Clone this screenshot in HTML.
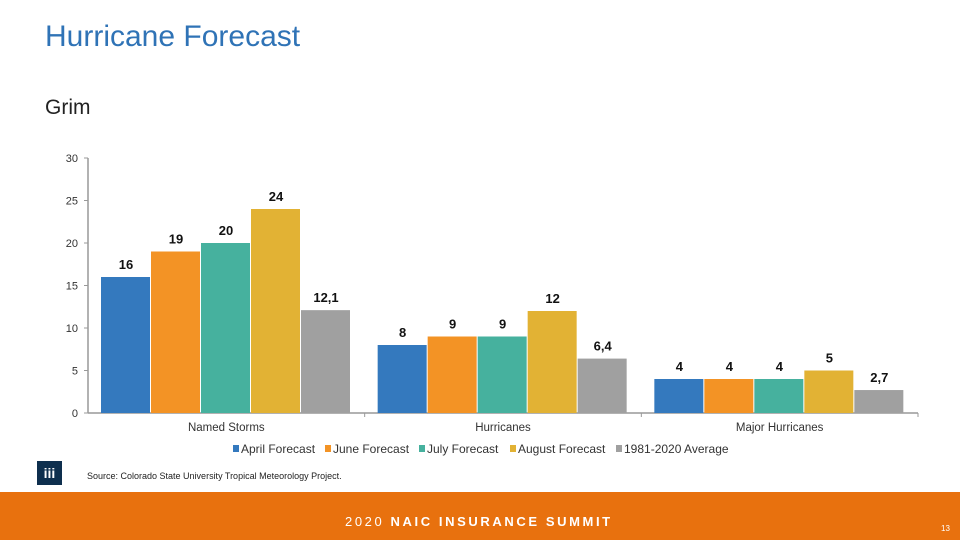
<!DOCTYPE html>
<html><head><meta charset="utf-8"><style>
body{margin:0;width:960px;height:540px;overflow:hidden;background:#fff;font-family:"Liberation Sans",sans-serif;position:relative}
.abs{position:absolute}
</style></head><body>
<div class="abs" style="left:45px;top:20px;font-size:30px;color:#2F73B6">Hurricane Forecast</div>
<div class="abs" style="left:45px;top:96px;font-size:21px;color:#222">Grim</div>
<svg class="abs" style="left:0;top:0" width="960" height="540" id="chart"></svg>
<div class="abs" style="left:37px;top:461px;width:25px;height:24px;background:#0E2F4E;color:#fff;font-size:14px;font-weight:bold;text-align:center;line-height:24px">iii</div>
<div class="abs" style="left:87px;top:471px;font-size:9px;color:#222">Source: Colorado State University Tropical Meteorology Project.</div>
<div class="abs" style="left:0;top:492px;width:960px;height:48px;background:#E8710E"></div>
<div class="abs" style="left:345px;top:514px;font-size:13px;color:#fff;letter-spacing:2.6px">2020 <b>NAIC INSURANCE SUMMIT</b></div>
<div class="abs" style="left:941px;top:524px;font-size:8px;color:#fff">13</div>
<script>
const categories=["Named Storms","Hurricanes","Major Hurricanes"];
const seriesNames=["April Forecast","June Forecast","July Forecast","August Forecast","1981-2020 Average"];
const april=[16,8,4];
const june=[19,9,4];
const july=[20,9,4];
const august=[24,12,5];
const average=[12.1,6.4,2.7];
const yTicks=[0,5,10,15,20,25,30];
const colors=["#3479BE","#F39325","#46B19E","#E2B234","#A0A0A0"];
const series=[april,june,july,august,average];
const svg=document.getElementById('chart');
const NS="http://www.w3.org/2000/svg";
const x0=88,x1=918,y0=413,y1=158,yMax=30;
const y=v=>y0-(v/yMax)*(y0-y1);
const gw=(x1-x0)/categories.length,bw=50,pad=13;
function el(t,a){const e=document.createElementNS(NS,t);for(const k in a)e.setAttribute(k,a[k]);svg.appendChild(e);return e;}
const ax=el('line',{x1:x0,y1:y1,x2:x0,y2:y0,stroke:'#999','stroke-width':1.5});


const xa=el('line',{x1:x0,y1:y0,x2:x1,y2:y0,stroke:'#999','stroke-width':1.5});


yTicks.forEach(t=>{
 el('line',{x1:x0-4,y1:y(t),x2:x0,y2:y(t),stroke:'#999'});
 const tx=el('text',{x:x0-10,y:y(t)+4,'text-anchor':'end','font-size':11,fill:'#333'});tx.textContent=t;
 
 
});
categories.forEach((c,i)=>{
 const gx=x0+i*gw;
 el('line',{x1:gx+gw,y1:y0,x2:gx+gw,y2:y0+4,stroke:'#999'});
 const ct=el('text',{x:gx+gw/2,y:y0+18,'text-anchor':'middle','font-size':11.5,fill:'#333'});ct.textContent=c;
 
 
 series.forEach((s,j)=>{
  const bx=gx+pad+j*bw,v=s[i];
  const r=el('rect',{x:bx,y:y(v),width:bw-1,height:y0-y(v),fill:colors[j]});
  
  
  const lt=el('text',{x:bx+bw/2,y:y(v)-8,'text-anchor':'middle','font-size':13,'font-weight':'bold',fill:'#111'});
  lt.textContent=String(v).replace('.',',');
  
  
 });
});
const lx=[241,333,427,518,624];
seriesNames.forEach((n,j)=>{
 el('rect',{x:lx[j]-8,y:445,width:6,height:7,fill:colors[j]});
 const t=el('text',{x:lx[j],y:453,'font-size':12,fill:'#333'});t.textContent=n;
 
 
});
</script>
</body></html>
